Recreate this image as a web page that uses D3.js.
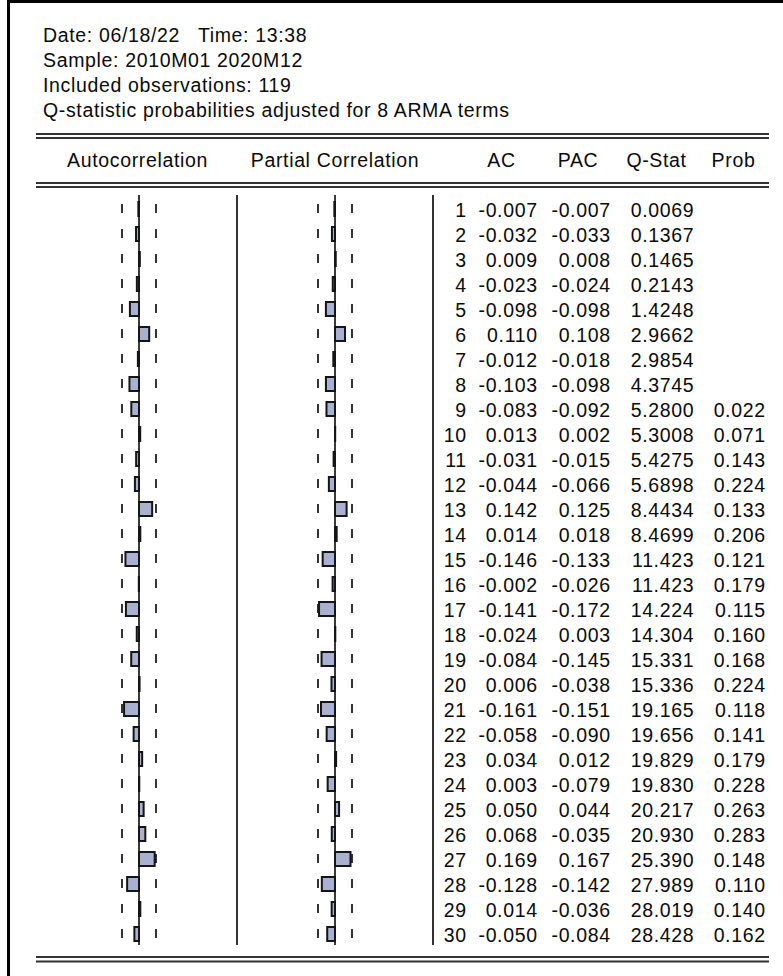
<!DOCTYPE html>
<html>
<head>
<meta charset="utf-8">
<script src="https://cdn.jsdelivr.net/npm/d3@7"></script>
<style>
  body { margin: 0; background: #fff; }
  svg { display: block; }
  text { font-family: "Liberation Sans", Arial, sans-serif; font-size: 19.5px; letter-spacing: 0.65px; fill: #0a0a0a; white-space: pre; }
</style>
</head>
<body>
<script>
// header info
const headerLines = [
  "Date: 06/18/22   Time: 13:38",
  "Sample: 2010M01 2020M12",
  "Included observations: 119",
  "Q-statistic probabilities adjusted for 8 ARMA terms"
];
const nObs = 119;
const columnTitles = ["Autocorrelation", "Partial Correlation", "AC", "PAC", "Q-Stat", "Prob"];

// correlogram values
const lags = d3.range(1, 31);
const acValues = [-0.007, -0.032, 0.009, -0.023, -0.098, 0.110, -0.012, -0.103, -0.083, 0.013,
  -0.031, -0.044, 0.142, 0.014, -0.146, -0.002, -0.141, -0.024, -0.084, 0.006,
  -0.161, -0.058, 0.034, 0.003, 0.050, 0.068, 0.169, -0.128, 0.014, -0.050];
const pacValues = [-0.007, -0.033, 0.008, -0.024, -0.098, 0.108, -0.018, -0.098, -0.092, 0.002,
  -0.015, -0.066, 0.125, 0.018, -0.133, -0.026, -0.172, 0.003, -0.145, -0.038,
  -0.151, -0.090, 0.012, -0.079, 0.044, -0.035, 0.167, -0.142, -0.036, -0.084];
const qStats = [0.0069, 0.1367, 0.1465, 0.2143, 1.4248, 2.9662, 2.9854, 4.3745, 5.2800, 5.3008,
  5.4275, 5.6898, 8.4434, 8.4699, 11.423, 11.423, 14.224, 14.304, 15.331, 15.336,
  19.165, 19.656, 19.829, 19.830, 20.217, 20.930, 25.390, 27.989, 28.019, 28.428];
const probs = [null, null, null, null, null, null, null, null, 0.022, 0.071,
  0.143, 0.224, 0.133, 0.206, 0.121, 0.179, 0.115, 0.160, 0.168, 0.224,
  0.118, 0.141, 0.179, 0.228, 0.263, 0.283, 0.148, 0.110, 0.140, 0.162];

const width = 783;
const height = 976;

const rows = lags.map((lag, i) => ({
  lag: lag,
  ac: acValues[i],
  pac: pacValues[i],
  q: qStats[i],
  prob: probs[i]
}));

const svg = d3.select("body").append("svg")
  .attr("width", width)
  .attr("height", height);

// frame on the left and top
svg.append("rect").attr("x", 7).attr("y", 0).attr("width", 3).attr("height", height).attr("fill", "#000");
svg.append("rect").attr("x", 7).attr("y", 0).attr("width", width - 7).attr("height", 3).attr("fill", "#000");

svg.append("g")
  .selectAll("text")
  .data(headerLines)
  .join("text")
  .attr("x", 43)
  .attr("y", (d, i) => 41.5 + i * 25)
  .text((d) => d);

// double rules
const rules = [134, 138, 183, 187, 957, 961.5];
svg.append("g")
  .selectAll("line")
  .data(rules)
  .join("line")
  .attr("x1", 36)
  .attr("x2", 769)
  .attr("y1", (d) => d)
  .attr("y2", (d) => d)
  .attr("stroke", "#333")
  .attr("stroke-width", 2);

const titleX = [137.5, 335, 501.5, 578, 656.5, 733.5];
svg.append("g")
  .selectAll("text")
  .data(columnTitles)
  .join("text")
  .attr("x", (d, i) => titleX[i])
  .attr("y", 166.5)
  .attr("text-anchor", "middle")
  .text((d) => d);

const bound = 2 / Math.sqrt(nObs);
const yScale = d3.scaleLinear().domain([1, 30]).range([209, 934]);
const xAc = d3.scaleLinear().domain([-bound, bound]).range([122, 156]);
const xPac = d3.scaleLinear().domain([-bound, bound]).range([318, 352]);

const yTop = 195;
const yBottom = 945;

function drawPanel(scale, key) {
  const g = svg.append("g");
  // dashed bounds, one dash per row
  [-bound, bound].forEach((b) => {
    g.append("g")
      .selectAll("rect")
      .data(rows)
      .join("rect")
      .attr("x", scale(b) - 1)
      .attr("y", (d) => yScale(d.lag) - 5)
      .attr("width", 2)
      .attr("height", 9)
      .attr("fill", "#333");
  });
  g.append("line")
    .attr("x1", scale(0)).attr("x2", scale(0))
    .attr("y1", yTop).attr("y2", yBottom)
    .attr("stroke", "#3a3a3a")
    .attr("stroke-width", 2);
  g.append("g")
    .selectAll("rect")
    .data(rows)
    .join("rect")
    .attr("x", (d) => Math.min(scale(0), scale(d[key])))
    .attr("y", (d) => yScale(d.lag) - 7)
    .attr("width", (d) => Math.abs(scale(d[key]) - scale(0)))
    .attr("height", 14)
    .attr("fill", "#a9b1d1")
    .attr("stroke", "#151515")
    .attr("stroke-width", 2);
}

drawPanel(xAc, "ac");
drawPanel(xPac, "pac");

// separators
[237, 433].forEach((x) => {
  svg.append("line")
    .attr("x1", x).attr("x2", x)
    .attr("y1", yTop).attr("y2", yBottom)
    .attr("stroke", "#333")
    .attr("stroke-width", 2);
});

// numeric columns, plain hyphen for negatives
const f3 = (v) => v.toFixed(3);
const columns = [
  { x: 466.7, text: (d) => d.lag },
  { x: 537.7, text: (d) => f3(d.ac) },
  { x: 610.7, text: (d) => f3(d.pac) },
  { x: 694.2, text: (d) => (d.q < 10 ? d.q.toFixed(4) : d.q.toFixed(3)) },
  { x: 765.7, text: (d) => (d.prob === null ? "" : f3(d.prob)) }
];

columns.forEach((col) => {
  svg.append("g")
    .selectAll("text")
    .data(rows)
    .join("text")
    .attr("x", col.x)
    .attr("y", (d) => yScale(d.lag) + 7.5)
    .attr("text-anchor", "end")
    .text(col.text);
});
</script>
</body>
</html>
